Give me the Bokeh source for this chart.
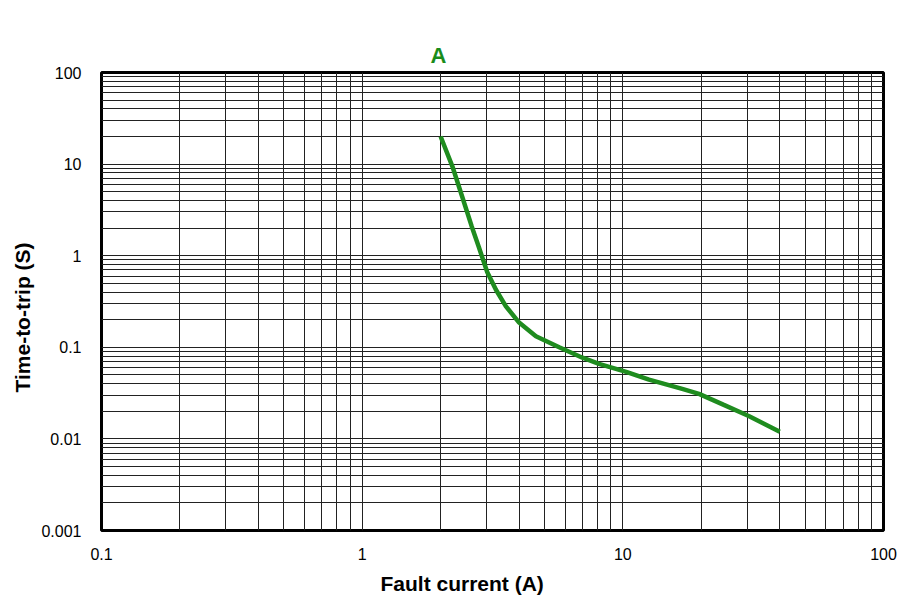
from bokeh.plotting import figure
from bokeh.models import FixedTicker, CustomJSTickFormatter, Title
from bokeh.embed import file_html
from bokeh.resources import INLINE

# Data (fault current A, time-to-trip s)
current_a = [2.0, 2.22, 2.42, 2.63, 2.8, 3.02, 3.26, 3.56, 4.0, 4.64, 5.7, 7.0, 8.1,
             10.3, 12.6, 16.9, 19.6, 24.4, 30.4, 40.0]
trip_time_s = [20, 9.4, 4.4, 2.1, 1.25, 0.66, 0.425, 0.28, 0.186, 0.132, 0.100, 0.077, 0.066,
               0.054, 0.0443, 0.0351, 0.031, 0.0235, 0.0178, 0.012]

x_major = [0.1, 1, 10, 100]
y_major = [0.001, 0.01, 0.1, 1, 10, 100]

def decade_grid(lo_exp, hi_exp):
    vals = []
    for e in range(lo_exp, hi_exp):
        for m in range(1, 10):
            vals.append(round(m * 10.0 ** e, 6))
    vals.append(round(10.0 ** hi_exp, 6))
    return vals

x_grid = decade_grid(-1, 2)
y_grid = decade_grid(-3, 2)

FONT = "Liberation Sans"

p = figure(width=899, height=605, x_axis_type="log", y_axis_type="log",
           x_range=(0.1, 100), y_range=(0.001, 100),
           output_backend="svg", toolbar_location=None,
           min_border_left=101, min_border_right=16, min_border_top=72, min_border_bottom=75)

p.title = Title(text="A", align="left", offset=329, text_color="#1a8c1a",
                text_font=FONT, text_font_size="22px", text_font_style="bold")

p.line(current_a, trip_time_s, line_color="#1f8c1f", line_width=4.5)

for ax, ticks in ((p.xaxis[0], x_major), (p.yaxis[0], y_major)):
    ax.ticker = FixedTicker(ticks=ticks)
    ax.formatter = CustomJSTickFormatter(code="return String(tick)")
    ax.major_tick_line_color = None
    ax.minor_tick_line_color = None
    ax.axis_line_color = None
    ax.major_label_text_font = FONT
    ax.major_label_text_font_size = "16px"
    ax.major_label_text_color = "#000000"

p.xaxis.major_label_standoff = 11
p.yaxis.major_label_standoff = 14

p.add_layout(Title(text="Time-to-trip (S)", align="left", offset=138,
                   text_font=FONT, text_font_style="bold", text_font_size="21px",
                   text_color="#000000", standoff=9), "left")

p.add_layout(Title(text="Fault current (A)", align="left", offset=279,
                   text_font=FONT, text_font_style="bold", text_font_size="21px",
                   text_color="#000000", standoff=14), "below")

p.xgrid.ticker = FixedTicker(ticks=x_grid)
p.ygrid.ticker = FixedTicker(ticks=y_grid)
for g in (p.xgrid[0], p.ygrid[0]):
    g.grid_line_color = "#222222"
    g.grid_line_width = 1
    g.grid_line_alpha = 1.0

p.outline_line_color = "black"
p.outline_line_width = 3
p.background_fill_color = "white"
p.border_fill_color = "white"

open("out.html", "w").write(file_html(p, INLINE))
